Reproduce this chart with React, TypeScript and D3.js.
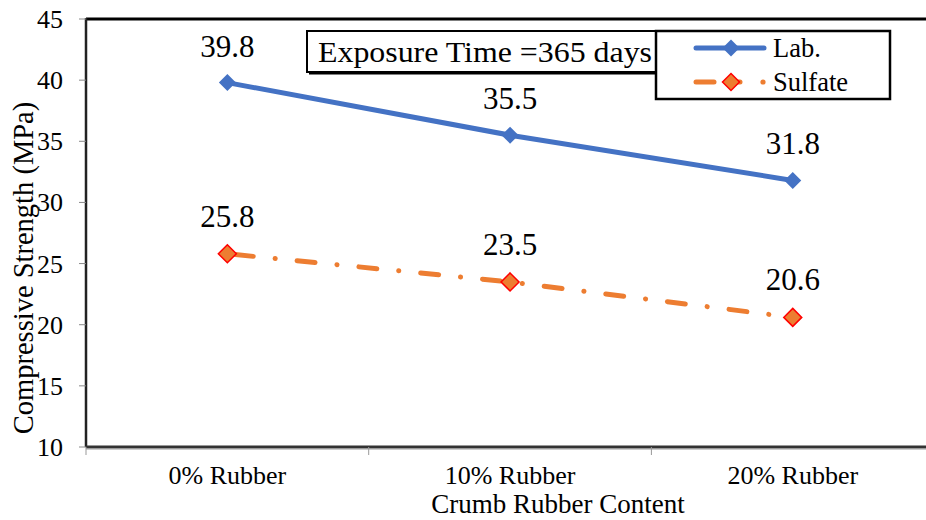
import React from "react";
import * as d3 from "d3";

const categories = ["0% Rubber", "10% Rubber", "20% Rubber"];
const labValues = [39.8, 35.5, 31.8];
const sulfateValues = [25.8, 23.5, 20.6];
const yTicks = [10, 15, 20, 25, 30, 35, 40, 45];
const seriesNames = ["Lab.", "Sulfate"];
const annotation = "Exposure Time =365 days";
const xTitle = "Crumb Rubber Content";
const yTitle = "Compressive Strength (MPa)";

const W = 926;
const H = 520;
const font = "Liberation Serif";

export default function App() {
  const left = 86;
  const top = 19;
  const bottom = 447;
  const x = d3.scaleBand<string>().domain(categories).range([left, left + 3 * 282.7]);
  const y = d3.scaleLinear().domain([10, 45]).range([bottom, top]);
  const cx = (c: string) => (x(c) as number) + x.bandwidth() / 2;
  const line = d3
    .line<[number, number]>()
    .x((d) => d[0])
    .y((d) => d[1]);
  const labPts: [number, number][] = categories.map((c, i) => [cx(c), y(labValues[i])]);
  const sulPts: [number, number][] = categories.map((c, i) => [cx(c), y(sulfateValues[i])]);
  const diamond = (px: number, py: number, r: number) =>
    `M${px},${py - r}L${px + r},${py}L${px},${py + r}L${px - r},${py}Z`;
  const blue = "#4472C4";
  const orange = "#ED7D31";
  const dash = "18 22 0.1 22";
  const xTickPos = [left, ...categories.map((c) => (x(c) as number) + x.bandwidth())];

  return (
    <svg
      width={W}
      height={H}
      style={{ position: "absolute", left: 0, top: 0, background: "#fff", fontFamily: font }}
    >
      <rect x={0} y={0} width={W} height={H} fill="#fff" />
      {/* top border */}
      <line x1={left} x2={W} y1={top} y2={top} stroke="#000" strokeWidth={3} />
      {/* y axis */}
      <line x1={left} x2={left} y1={top - 1} y2={bottom} stroke="#222" strokeWidth={2.5} />
      {yTicks.map((t) => (
        <g key={t}>
          <line x1={79} x2={left} y1={y(t)} y2={y(t)} stroke="#888" strokeWidth={1} />
          <text x={63} y={y(t) + 9} textAnchor="end" fontFamily={font} fontSize={26} fill="#000">
            {t}
          </text>
        </g>
      ))}
      {/* x axis */}
      <line x1={left} x2={W} y1={bottom} y2={bottom} stroke="#333" strokeWidth={3} />
      <line x1={left} x2={W} y1={bottom + 2} y2={bottom + 2} stroke="#999" strokeWidth={1} />
      {xTickPos.map((p, i) => (
        <line key={i} x1={p} x2={p} y1={bottom} y2={bottom + 8} stroke="#999" strokeWidth={1} />
      ))}
      {categories.map((c) => (
        <text key={c} x={cx(c)} y={484} textAnchor="middle" fontFamily={font} fontSize={26} fill="#000">
          {c}
        </text>
      ))}
      <text x={558} y={513} textAnchor="middle" fontFamily={font} fontSize={27} fill="#000">
        {xTitle}
      </text>
      <text
        transform={`translate(33,${268}) rotate(-90)`}
        textAnchor="middle"
        fontFamily={font}
        fontSize={28.5}
        fill="#000"
      >
        {yTitle}
      </text>

      {/* Lab series */}
      <path d={line(labPts) || ""} fill="none" stroke={blue} strokeWidth={5} />
      {labPts.map((p, i) => (
        <path key={i} d={diamond(p[0], p[1], 8.5)} fill={blue} />
      ))}
      {/* Sulfate series */}
      <path
        d={line(sulPts) || ""}
        fill="none"
        stroke={orange}
        strokeWidth={5}
        strokeLinecap="round"
        strokeDasharray={dash}
        strokeDashoffset={-8}
      />
      {sulPts.map((p, i) => (
        <path key={i} d={diamond(p[0], p[1], 9)} fill={orange} stroke="#FF0000" strokeWidth={1.5} />
      ))}

      {/* data labels */}
      {labPts.map((p, i) => (
        <text key={"l" + i} x={p[0]} y={p[1] - 26} textAnchor="middle" fontFamily={font} fontSize={31} fill="#000">
          {labValues[i].toFixed(1)}
        </text>
      ))}
      {sulPts.map((p, i) => (
        <text key={"s" + i} x={p[0]} y={p[1] - 27} textAnchor="middle" fontFamily={font} fontSize={31} fill="#000">
          {sulfateValues[i].toFixed(1)}
        </text>
      ))}

      {/* annotation box */}
      <rect x={307} y={31} width={352} height={41} fill="#fff" stroke="#000" strokeWidth={2} />
      <line x1={660} x2={660} y1={30} y2={75} stroke="#000" strokeWidth={3.5} />
      <line x1={309} x2={661} y1={73.5} y2={73.5} stroke="#000" strokeWidth={2} />
      <text
        x={318}
        y={62}
        fontFamily={font}
        fontSize={30}
        fill="#000"
        textLength={334}
        lengthAdjust="spacingAndGlyphs"
      >
        {annotation}
      </text>

      {/* legend */}
      <rect x={656} y={31} width={234} height={68} fill="#fff" stroke="#000" strokeWidth={2.5} />
      <line x1={696} x2={764} y1={48} y2={48} stroke={blue} strokeWidth={5} strokeLinecap="round" />
      <path d={diamond(731, 48, 8.5)} fill={blue} />
      <text x={773} y={57} fontFamily={font} fontSize={26.5} fill="#000">
        {seriesNames[0]}
      </text>
      <line x1={696} x2={714} y1={82} y2={82} stroke={orange} strokeWidth={5} strokeLinecap="round" />
      <line x1={737} x2={740} y1={82} y2={82} stroke={orange} strokeWidth={5} strokeLinecap="round" />
      <circle cx={763} cy={82} r={2.6} fill={orange} />
      <path d={diamond(731, 82, 8.5)} fill={orange} stroke="#FF0000" strokeWidth={1.5} />
      <text x={773} y={91} fontFamily={font} fontSize={26.5} fill="#000">
        {seriesNames[1]}
      </text>
    </svg>
  );
}
